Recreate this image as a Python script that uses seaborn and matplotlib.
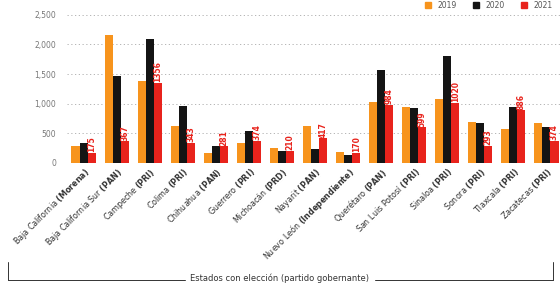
import matplotlib
matplotlib.use("Agg")
import matplotlib.pyplot as plt
import pandas as pd
import seaborn as sns
from matplotlib.lines import Line2D

# Estados con elección y partido gobernante
estados = [
    "Baja California", "Baja California Sur", "Campeche", "Colima", "Chihuahua",
    "Guerrero", "Michoacán", "Nayarit", "Nuevo León", "Querétaro",
    "San Luis Potosí", "Sinaloa", "Sonora", "Tlaxcala", "Zacatecas",
]
partidos = [
    "Morena", "PAN", "PRI", "PRI", "PAN", "PRI", "PRD", "PAN",
    "Independiente", "PAN", "PRI", "PRI", "PRI", "PRI", "PRI",
]
anios = ["2019", "2020", "2021"]

v2019 = [280, 2155, 1380, 620, 170, 345, 250, 620, 190, 1035, 950, 1085, 690, 580, 670]
v2020 = [345, 1465, 2090, 965, 290, 535, 200, 240, 140, 1570, 930, 1810, 680, 940, 600]
v2021 = [175, 367, 1356, 343, 281, 374, 210, 417, 170, 984, 599, 1020, 293, 886, 374]

colores = ["#F7941D", "#141414", "#E8231C"]

etiquetas = [
    e + " $\\bf{(" + p.replace(" ", "\\ ") + ")}$" for e, p in zip(estados, partidos)
]

df = pd.DataFrame({
    "estado": etiquetas * 3,
    "anio": [a for a in anios for _ in estados],
    "valor": v2019 + v2020 + v2021,
})

sns.set_style("white")
plt.rcParams["font.family"] = ["DejaVu Sans"]

fig = plt.figure(figsize=(5.6, 2.91), dpi=100)
ax = fig.add_axes([0.12, 0.44, 0.885, 0.509])

sns.barplot(
    data=df, x="estado", y="valor", hue="anio", hue_order=anios,
    palette=colores, width=0.74, saturation=1, linewidth=0, ax=ax, legend=False,
)

# Etiquetas de 2021 sobre las barras rojas
for bar, val in zip(ax.containers[2], v2021):
    ax.text(
        bar.get_x() + bar.get_width() / 2, bar.get_height() + 10, f"{val}",
        rotation=90, ha="center", va="bottom", color="#E8231C",
        fontsize=5.5, fontweight="bold",
    )

ax.set_ylim(0, 2500)
ax.set_xlim(-0.5, len(estados) - 0.5)
ax.set_yticks([0, 500, 1000, 1500, 2000, 2500])
ax.set_yticklabels(["0", "500", "1,000", "1,500", "2,000", "2,500"],
                   fontsize=5.5, color="#777777")
ax.yaxis.grid(True, linestyle=(0, (1.5, 3)), color="#aaaaaa", linewidth=0.6)
ax.set_axisbelow(True)
for s in ax.spines.values():
    s.set_visible(False)
ax.tick_params(axis="y", length=0, pad=8)
ax.tick_params(axis="x", length=0, pad=2)
ax.set_xticks(range(len(estados)))
ax.set_xticklabels(etiquetas, rotation=45, ha="right", rotation_mode="anchor",
                   fontsize=5.8, color="#333333")
ax.set_xlabel("")
ax.set_ylabel("")

# Leyenda arriba a la derecha
handles = [Line2D([], [], marker="s", linestyle="", color=c, markersize=4) for c in colores]
fig.legend(handles, anios, loc="upper right", bbox_to_anchor=(1.0, 1.02), ncol=3,
           frameon=False, fontsize=5.5, handletextpad=0.3, columnspacing=1.5,
           labelcolor="#555555")

# Título del eje x con línea de corchete
fig.text(0.5, 0.045, "Estados con elección (partido gobernante)", ha="center",
         va="center", fontsize=6, color="#333333")
fig.add_artist(Line2D([0.014, 0.33], [0.038, 0.038], color="#333333", lw=0.7))
fig.add_artist(Line2D([0.67, 0.988], [0.038, 0.038], color="#333333", lw=0.7))
fig.add_artist(Line2D([0.014, 0.014], [0.038, 0.10], color="#333333", lw=0.7))
fig.add_artist(Line2D([0.988, 0.988], [0.038, 0.10], color="#333333", lw=0.7))

fig.savefig("out.png", dpi=100)
